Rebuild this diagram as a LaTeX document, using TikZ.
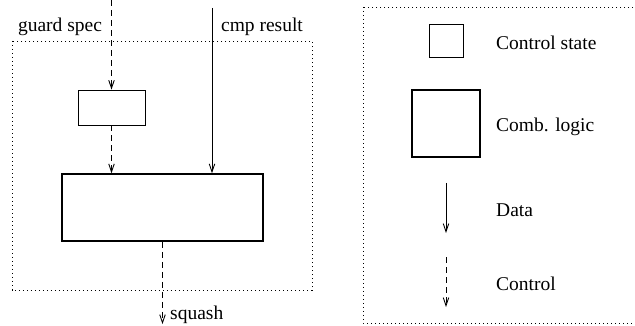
\documentclass[tikz,border=0pt]{standalone}
\usepackage{fontspec}
\setmainfont{Liberation Serif}
\usetikzlibrary{arrows.meta}
\begin{document}
\begin{tikzpicture}[x=1pt,y=-1pt,
  every node/.style={font=\rmfamily\fontsize{19.5}{22}\selectfont, inner sep=0pt},
  frame/.style={line width=0.8pt, dash pattern=on 1.1pt off 2.9pt},
  statebox/.style={draw, line width=0.8pt, minimum width=67pt, minimum height=35pt},
  logicbox/.style={draw, line width=1.5pt, minimum width=201pt, minimum height=67pt},
  tip/.style={-{Straight Barb[length=8pt,width=5.5pt,line width=0.9pt]}},
  datawire/.style={tip, line width=0.9pt},
  ctrlwire/.style={tip, line width=0.9pt, dash pattern=on 6pt off 4pt}]
  \useasboundingbox (0,0) rectangle (635,326);
  \clip (0,0) rectangle (635,326);

  % datapath block
  \draw[frame] (12,41) rectangle (312,290);
  \node[statebox] (gs) at (111.5,107.5) {};
  \node[logicbox] (cl) at (162.5,207.5) {};
  \coordinate (gsin) at (111.5,0);
  \coordinate (cmpin) at (212,8);
  \coordinate (sqout) at (162.5,324);
  \node (gslabel) at (60,27) {guard spec};
  \node (cmplabel) at (262,27) {cmp result};
  \node[anchor=west] (sqlabel) at (170,315) {squash};
  \draw[ctrlwire] (gsin) -- (gs.north);
  \draw[ctrlwire] (gs.south) -- (gs.south |- cl.north);
  \draw[datawire] (cmpin) -- (cmpin |- cl.north);
  \draw[ctrlwire] (cl.south) -- (sqout);

  % legend
  \draw[frame] (363,7) rectangle (660,323);
  \node[draw, line width=0.8pt, minimum width=34pt, minimum height=33pt] (lstate) at (446,40.5) {};
  \node[draw, line width=1.5pt, minimum width=68pt, minimum height=67pt] (llogic) at (446,123.5) {};
  \coordinate (ldata1) at (446,183);
  \coordinate (ldata2) at (446,233);
  \coordinate (lctrl1) at (446,257);
  \coordinate (lctrl2) at (446,307);
  \draw[datawire] (ldata1) -- (ldata2);
  \draw[ctrlwire] (lctrl1) -- (lctrl2);
  \node[anchor=west] (tstate) at (496,43) {Control state};
  \node[anchor=west] (tlogic) at (496,127) {Comb. logic};
  \node[anchor=west] (tdata) at (496,210) {Data};
  \node[anchor=west] (tctrl) at (496,284) {Control};
\end{tikzpicture}
\end{document}
